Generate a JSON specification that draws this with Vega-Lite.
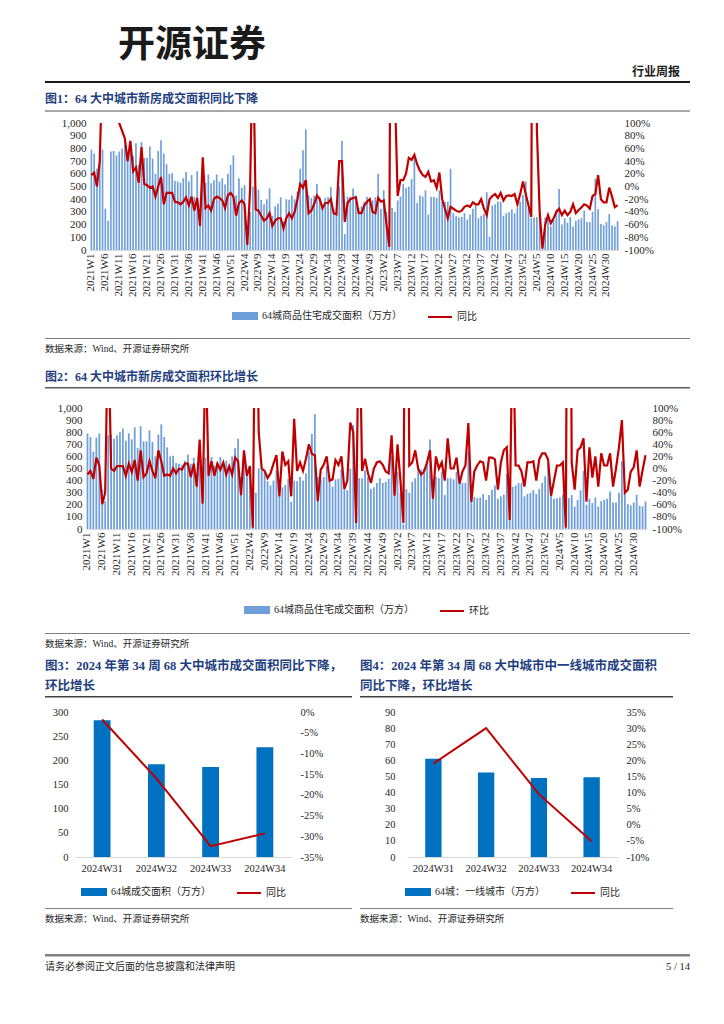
{
  "$schema": "https://vega.github.io/schema/vega-lite/v6.json",
  "background": "white",
  "padding": {"top": 27, "left": 45, "right": 0, "bottom": 0},
  "title": {"text": "开源证券", "anchor": "start", "dx": 73, "fontSize": 37, "font": "Noto Sans CJK SC", "fontWeight": "bold", "color": "#1a1a1a", "offset": 1},
  "config": {
    "view": {"stroke": null},
    "font": "Liberation Serif, Noto Sans CJK SC",
    "axis": {"labelFont": "Liberation Serif, Noto Sans CJK SC", "labelColor": "#262626", "grid": false, "ticks": false, "domain": false},
    "legend": {"labelFont": "Liberation Serif, Noto Sans CJK SC", "labelColor": "#262626", "layout": {"bottom": {"anchor": "middle"}}},
    "title": {"font": "Liberation Serif, Noto Sans CJK SC", "fontWeight": "bold", "fontSize": 12, "color": "#1F3F7F", "anchor": "start"}
  },
  "datasets": {
    "weekly": [
      {"w":"2021W1","a":790,"y":18,"m":-10},{"w":"2021W2","a":760,"y":22,"m":-4},{"w":"2021W3","a":640,"y":0,"m":-17},{"w":"2021W4","a":755,"y":40,"m":18},{"w":"2021W5","a":790,"y":200,"m":5},
      {"w":"2021W6","a":325,"y":600,"m":-59},{"w":"2021W7","a":230,"y":1200,"m":-40},{"w":"2021W8","a":775,"y":900,"m":250},{"w":"2021W9","a":780,"y":400,"m":0},{"w":"2021W10","a":745,"y":160,"m":-4},
      {"w":"2021W11","a":775,"y":100,"m":4},{"w":"2021W12","a":800,"y":88,"m":4},{"w":"2021W13","a":830,"y":76,"m":4},{"w":"2021W14","a":730,"y":40,"m":-12},{"w":"2021W15","a":790,"y":72,"m":8},
      {"w":"2021W16","a":740,"y":24,"m":-6},{"w":"2021W17","a":840,"y":30,"m":14},{"w":"2021W18","a":670,"y":6,"m":-20},{"w":"2021W19","a":850,"y":62,"m":30},{"w":"2021W20","a":725,"y":4,"m":-14},
      {"w":"2021W21","a":725,"y":2,"m":-8},{"w":"2021W22","a":815,"y":-2,"m":12},{"w":"2021W23","a":720,"y":0,"m":-4},{"w":"2021W24","a":600,"y":-16,"m":-16},{"w":"2021W25","a":780,"y":0,"m":30},
      {"w":"2021W26","a":865,"y":15,"m":12},{"w":"2021W27","a":760,"y":-28,"m":-12},{"w":"2021W28","a":675,"y":-10,"m":-10},{"w":"2021W29","a":600,"y":-10,"m":-12},{"w":"2021W30","a":605,"y":-10,"m":0},
      {"w":"2021W31","a":545,"y":-24,"m":-8},{"w":"2021W32","a":540,"y":-25,"m":0},{"w":"2021W33","a":530,"y":-28,"m":-2},{"w":"2021W34","a":565,"y":-24,"m":8},{"w":"2021W35","a":615,"y":-17,"m":8},
      {"w":"2021W36","a":540,"y":-30,"m":-14},{"w":"2021W37","a":590,"y":-16,"m":8},{"w":"2021W38","a":420,"y":-38,"m":-30},{"w":"2021W39","a":620,"y":-18,"m":48},{"w":"2021W40","a":270,"y":-62,"m":-58},
      {"w":"2021W41","a":590,"y":46,"m":200},{"w":"2021W42","a":530,"y":-34,"m":-12},{"w":"2021W43","a":595,"y":-30,"m":12},{"w":"2021W44","a":525,"y":-38,"m":-12},{"w":"2021W45","a":550,"y":-20,"m":8},
      {"w":"2021W46","a":595,"y":-16,"m":-2},{"w":"2021W47","a":540,"y":-18,"m":10},{"w":"2021W48","a":565,"y":-22,"m":-10},{"w":"2021W49","a":515,"y":-34,"m":4},{"w":"2021W50","a":600,"y":-14,"m":-10},
      {"w":"2021W51","a":670,"y":-10,"m":18},{"w":"2021W52","a":745,"y":-16,"m":12},{"w":"2022W1","a":430,"y":-46,"m":-44},{"w":"2022W2","a":565,"y":-26,"m":30},{"w":"2022W3","a":490,"y":-22,"m":-12},
      {"w":"2022W4","a":510,"y":-28,"m":4},{"w":"2022W5","a":60,"y":-92,"m":-98},{"w":"2022W6","a":300,"y":-4,"m":400},{"w":"2022W7","a":500,"y":250,"m":60},{"w":"2022W8","a":495,"y":-36,"m":0},
      {"w":"2022W9","a":475,"y":-38,"m":-4},{"w":"2022W10","a":395,"y":-46,"m":-16},{"w":"2022W11","a":360,"y":-54,"m":-8},{"w":"2022W12","a":400,"y":-50,"m":8},{"w":"2022W13","a":485,"y":-42,"m":22},
      {"w":"2022W14","a":270,"y":-62,"m":-46},{"w":"2022W15","a":345,"y":-54,"m":28},{"w":"2022W16","a":365,"y":-50,"m":6},{"w":"2022W17","a":415,"y":-50,"m":12},{"w":"2022W18","a":225,"y":-66,"m":-46},
      {"w":"2022W19","a":400,"y":-50,"m":82},{"w":"2022W20","a":395,"y":-42,"m":-4},{"w":"2022W21","a":430,"y":-50,"m":10},{"w":"2022W22","a":400,"y":-40,"m":-4},{"w":"2022W23","a":460,"y":-20,"m":16},
      {"w":"2022W24","a":640,"y":4,"m":40},{"w":"2022W25","a":785,"y":-2,"m":24},{"w":"2022W26","a":950,"y":10,"m":22},{"w":"2022W27","a":430,"y":-42,"m":-54},{"w":"2022W28","a":410,"y":-38,"m":-2},
      {"w":"2022W29","a":430,"y":-28,"m":6},{"w":"2022W30","a":520,"y":-14,"m":20},{"w":"2022W31","a":420,"y":-20,"m":-20},{"w":"2022W32","a":350,"y":-34,"m":-18},{"w":"2022W33","a":410,"y":-26,"m":14},
      {"w":"2022W34","a":415,"y":-26,"m":6},{"w":"2022W35","a":495,"y":-20,"m":20},{"w":"2022W36","a":325,"y":-42,"m":-34},{"w":"2022W37","a":320,"y":-44,"m":-20},{"w":"2022W38","a":500,"y":40,"m":76},
      {"w":"2022W39","a":860,"y":40,"m":60},{"w":"2022W40","a":125,"y":-56,"m":-90},{"w":"2022W41","a":420,"y":-26,"m":300},{"w":"2022W42","a":420,"y":-20,"m":-4},{"w":"2022W43","a":485,"y":-18,"m":16},
      {"w":"2022W44","a":430,"y":-17,"m":-8},{"w":"2022W45","a":330,"y":-42,"m":-24},{"w":"2022W46","a":345,"y":-42,"m":0},{"w":"2022W47","a":380,"y":-30,"m":10},{"w":"2022W48","a":420,"y":-24,"m":12},
      {"w":"2022W49","a":380,"y":-20,"m":6},{"w":"2022W50","a":390,"y":-40,"m":-5},{"w":"2022W51","a":415,"y":-42,"m":-8},{"w":"2022W52","a":600,"y":-18,"m":55},{"w":"2023W1","a":325,"y":-24,"m":-45},
      {"w":"2023W2","a":470,"y":-22,"m":40},{"w":"2023W3","a":300,"y":-60,"m":-20},{"w":"2023W4","a":40,"y":-95,"m":-90},{"w":"2023W5","a":330,"y":800,"m":700},{"w":"2023W6","a":300,"y":150,"m":5},
      {"w":"2023W7","a":390,"y":-15,"m":10},{"w":"2023W8","a":420,"y":10,"m":30},{"w":"2023W9","a":520,"y":10,"m":0},{"w":"2023W10","a":490,"y":20,"m":-10},{"w":"2023W11","a":500,"y":45,"m":-5},
      {"w":"2023W12","a":560,"y":42,"m":10},{"w":"2023W13","a":740,"y":50,"m":30},{"w":"2023W14","a":370,"y":35,"m":-50},{"w":"2023W15","a":430,"y":25,"m":20},{"w":"2023W16","a":420,"y":18,"m":0},
      {"w":"2023W17","a":470,"y":15,"m":10},{"w":"2023W18","a":280,"y":23,"m":-20},{"w":"2023W19","a":420,"y":8,"m":50},{"w":"2023W20","a":420,"y":10,"m":0},{"w":"2023W21","a":410,"y":-2,"m":0},
      {"w":"2023W22","a":470,"y":22,"m":18},{"w":"2023W23","a":380,"y":-20,"m":-25},{"w":"2023W24","a":380,"y":-35,"m":-5},{"w":"2023W25","a":380,"y":-50,"m":5},{"w":"2023W26","a":640,"y":-32,"m":75},
      {"w":"2023W27","a":290,"y":-35,"m":-55},{"w":"2023W28","a":265,"y":-38,"m":-5},{"w":"2023W29","a":255,"y":-40,"m":5},{"w":"2023W30","a":260,"y":-38,"m":12},{"w":"2023W31","a":290,"y":-32,"m":10},
      {"w":"2023W32","a":240,"y":-30,"m":-20},{"w":"2023W33","a":280,"y":-32,"m":18},{"w":"2023W34","a":325,"y":-25,"m":18},{"w":"2023W35","a":360,"y":-28,"m":15},{"w":"2023W36","a":250,"y":-28,"m":-35},
      {"w":"2023W37","a":270,"y":-20,"m":10},{"w":"2023W38","a":285,"y":-35,"m":30},{"w":"2023W39","a":455,"y":-45,"m":35},{"w":"2023W40","a":105,"y":-20,"m":-85},{"w":"2023W41","a":350,"y":-15,"m":250},
      {"w":"2023W42","a":360,"y":-12,"m":5},{"w":"2023W43","a":380,"y":-18,"m":5},{"w":"2023W44","a":380,"y":-10,"m":-5},{"w":"2023W45","a":270,"y":-22,"m":-30},{"w":"2023W46","a":290,"y":-15,"m":10},
      {"w":"2023W47","a":300,"y":-14,"m":10},{"w":"2023W48","a":320,"y":-15,"m":12},{"w":"2023W49","a":290,"y":-12,"m":-20},{"w":"2023W50","a":330,"y":-28,"m":15},{"w":"2023W51","a":380,"y":-12,"m":25},
      {"w":"2023W52","a":435,"y":8,"m":25},{"w":"2024W1","a":540,"y":-12,"m":15},{"w":"2024W2","a":330,"y":-30,"m":-45},{"w":"2024W3","a":250,"y":-48,"m":-20},{"w":"2024W4","a":255,"y":1200,"m":5},
      {"w":"2024W5","a":260,"y":90,"m":5},{"w":"2024W6","a":285,"y":-40,"m":10},{"w":"2024W7","a":10,"y":-98,"m":-98},{"w":"2024W8","a":255,"y":-60,"m":900},{"w":"2024W9","a":280,"y":-45,"m":10},
      {"w":"2024W10","a":185,"y":-58,"m":-35},{"w":"2024W11","a":240,"y":-50,"m":30},{"w":"2024W12","a":320,"y":-40,"m":35},{"w":"2024W13","a":480,"y":-35,"m":50},{"w":"2024W14","a":200,"y":-45,"m":-55},
      {"w":"2024W15","a":250,"y":-38,"m":35},{"w":"2024W16","a":215,"y":-45,"m":-15},{"w":"2024W17","a":260,"y":-40,"m":20},{"w":"2024W18","a":185,"y":-28,"m":-30},{"w":"2024W19","a":230,"y":-42,"m":25},
      {"w":"2024W20","a":240,"y":-37,"m":5},{"w":"2024W21","a":250,"y":-33,"m":5},{"w":"2024W22","a":310,"y":-28,"m":25},{"w":"2024W23","a":220,"y":-30,"m":-30},{"w":"2024W24","a":220,"y":-35,"m":0},
      {"w":"2024W25","a":300,"y":-15,"m":35},{"w":"2024W26","a":560,"y":-12,"m":80},{"w":"2024W27","a":320,"y":18,"m":-40},{"w":"2024W28","a":205,"y":-20,"m":-35},{"w":"2024W29","a":195,"y":-25,"m":-5},
      {"w":"2024W30","a":220,"y":-25,"m":2},{"w":"2024W31","a":283,"y":-1.8,"m":30},{"w":"2024W32","a":192,"y":-16,"m":-30},{"w":"2024W33","a":186,"y":-32.4,"m":-3},{"w":"2024W34","a":227,"y":-29.3,"m":22}
    ],
    "c3": [
      {"w":"2024W31","a":283,"y":-1.8},{"w":"2024W32","a":192,"y":-16},{"w":"2024W33","a":186,"y":-32.4},{"w":"2024W34","a":227,"y":-29.3}
    ],
    "c4": [
      {"w":"2024W31","a":61,"y":19},{"w":"2024W32","a":52.5,"y":30},{"w":"2024W33","a":49,"y":9.5},{"w":"2024W34","a":49.5,"y":-5.1}
    ]
  },
  "columns": 1,
  "align": "none",
  "spacing": 10,
  "resolve": {"scale": {"color": "independent"}, "legend": {"color": "independent"}},
  "concat": [
    {
      "width": 645, "height": 2,
      "view": {"fill": "#1a1a1a", "stroke": null},
      "title": {"text": "行业周报", "anchor": "end", "dx": -10, "fontSize": 12, "color": "#1a1a1a", "offset": 2},
      "data": {"values": []}, "mark": {"type": "rule"}, "encoding": {}
    },
    {
      "columns": 1, "align": "none", "spacing": 17,
      "resolve": {"scale": {"color": "independent"}, "legend": {"color": "independent"}},
      "concat": [
        {
          "columns": 1, "align": "none", "spacing": 5,
          "resolve": {"scale": {"color": "independent"}, "legend": {"color": "independent"}},
          "concat": [
            {
              "width": 645, "height": 2,
              "view": {"fill": "#A6A6A6", "stroke": null},
              "title": {"text": "图1：64 大中城市新房成交面积同比下降", "offset": 4},
              "data": {"values": []}, "mark": {"type": "rule"}, "encoding": {}
            },
            {
              "columns": 1, "align": "none", "spacing": 15,
              "resolve": {"scale": {"color": "independent"}, "legend": {"color": "independent"}},
              "concat": [
                {
                  "spacing": 0,
                  "resolve": {"scale": {"color": "independent"}, "legend": {"color": "independent"}},
                  "hconcat": [
                    {"width": 1, "height": 1, "data": {"values": []}, "mark": {"type": "rule"}, "encoding": {}},
                    {
                      "width": 529, "height": 127,
                      "data": {"name": "weekly"},
                      "encoding": {
                        "x": {"field": "w", "type": "nominal", "sort": null, "scale": {"paddingInner": 0.4, "paddingOuter": 0.2},
                          "axis": {"title": null, "labelAngle": -90, "labelFontSize": 11, "labelPadding": 3, "domain": true, "domainColor": "#D9D9D9",
                            "values": ["2021W1","2021W6","2021W11","2021W16","2021W21","2021W26","2021W31","2021W36","2021W41","2021W46","2021W51","2022W4","2022W9","2022W14","2022W19","2022W24","2022W29","2022W34","2022W39","2022W44","2022W49","2023W2","2023W7","2023W12","2023W17","2023W22","2023W27","2023W32","2023W37","2023W42","2023W47","2023W52","2024W5","2024W10","2024W15","2024W20","2024W25","2024W30"]}}
                      },
                      "layer": [
                        {
                          "mark": {"type": "bar"},
                          "encoding": {
                            "y": {"field": "a", "type": "quantitative", "scale": {"domain": [0, 1000]},
                              "axis": {"title": null, "values": [0,100,200,300,400,500,600,700,800,900,1000], "labelFontSize": 11, "labelPadding": 4, "minExtent": 44}},
                            "color": {"datum": "64城商品住宅成交面积（万方）",
                              "scale": {"domain": ["64城商品住宅成交面积（万方）", "同比"], "range": ["#6F9FDA", "#C00000"]},
                              "legend": {"orient": "bottom", "direction": "horizontal", "title": null, "labelFontSize": 10, "symbolSize": 576, "columnPadding": 22, "labelLimit": 300, "offset": 6, "padding": 0,
                                "encode": {"symbols": {"update": {
                                  "shape": {"signal": "datum.value === '同比' ? 'M-1,0H1' : 'M-1,-0.25H1V0.25H-1Z'"},
                                  "fill": {"signal": "datum.value === '同比' ? 'transparent' : '#6F9FDA'"},
                                  "stroke": {"signal": "datum.value === '同比' ? '#C00000' : 'transparent'"},
                                  "strokeWidth": {"value": 2}}}}}}
                          }
                        },
                        {
                          "mark": {"type": "line", "strokeWidth": 2.2, "clip": true},
                          "encoding": {
                            "y": {"field": "y", "type": "quantitative", "scale": {"domain": [-100, 100]},
                              "axis": {"title": null, "orient": "right", "values": [-100,-80,-60,-40,-20,0,20,40,60,80,100], "labelExpr": "datum.value + '%'", "labelFontSize": 11, "labelPadding": 5}},
                            "color": {"datum": "同比"}
                          }
                        }
                      ],
                      "resolve": {"scale": {"y": "independent"}}
                    }
                  ]
                },
                {
                  "width": 645, "height": 1,
                  "view": {"fill": "#7F7F7F", "stroke": null},
                  "title": {"text": "数据来源：Wind、开源证券研究所", "orient": "bottom", "fontWeight": "normal", "fontSize": 9.5, "color": "#262626", "offset": 5},
                  "data": {"values": []}, "mark": {"type": "rule"}, "encoding": {}
                }
              ]
            }
          ]
        },
        {
          "columns": 1, "align": "none", "spacing": 13,
          "resolve": {"scale": {"color": "independent"}, "legend": {"color": "independent"}},
          "concat": [
            {
              "width": 645, "height": 1.5,
              "view": {"fill": "#595959", "stroke": null},
              "title": {"text": "图2：64 大中城市新房成交面积环比增长", "offset": 3},
              "data": {"values": []}, "mark": {"type": "rule"}, "encoding": {}
            },
            {
              "columns": 1, "align": "none", "spacing": 16,
              "resolve": {"scale": {"color": "independent"}, "legend": {"color": "independent"}},
              "concat": [
                {
                  "spacing": 0,
                  "resolve": {"scale": {"color": "independent"}, "legend": {"color": "independent"}},
                  "hconcat": [
                    {"width": 1, "height": 1, "data": {"values": []}, "mark": {"type": "rule"}, "encoding": {}},
                    {
                      "width": 561, "height": 121,
                      "data": {"name": "weekly"},
                      "encoding": {
                        "x": {"field": "w", "type": "nominal", "sort": null, "scale": {"paddingInner": 0.4, "paddingOuter": 0.2},
                          "axis": {"title": null, "labelAngle": -90, "labelFontSize": 11, "labelPadding": 3, "domain": true, "domainColor": "#D9D9D9",
                            "values": ["2021W1","2021W6","2021W11","2021W16","2021W21","2021W26","2021W31","2021W36","2021W41","2021W46","2021W51","2022W4","2022W9","2022W14","2022W19","2022W24","2022W29","2022W34","2022W39","2022W44","2022W49","2023W2","2023W7","2023W12","2023W17","2023W22","2023W27","2023W32","2023W37","2023W42","2023W47","2023W52","2024W5","2024W10","2024W15","2024W20","2024W25","2024W30"]}}
                      },
                      "layer": [
                        {
                          "mark": {"type": "bar"},
                          "encoding": {
                            "y": {"field": "a", "type": "quantitative", "scale": {"domain": [0, 1000]},
                              "axis": {"title": null, "values": [0,100,200,300,400,500,600,700,800,900,1000], "labelFontSize": 11, "labelPadding": 4, "minExtent": 40}},
                            "color": {"datum": "64城商品住宅成交面积（万方）",
                              "scale": {"domain": ["64城商品住宅成交面积（万方）", "环比"], "range": ["#6F9FDA", "#C00000"]},
                              "legend": {"orient": "bottom", "direction": "horizontal", "title": null, "labelFontSize": 10, "symbolSize": 576, "columnPadding": 22, "labelLimit": 300, "offset": 21, "padding": 0,
                                "encode": {"symbols": {"update": {
                                  "shape": {"signal": "datum.value === '环比' ? 'M-1,0H1' : 'M-1,-0.25H1V0.25H-1Z'"},
                                  "fill": {"signal": "datum.value === '环比' ? 'transparent' : '#6F9FDA'"},
                                  "stroke": {"signal": "datum.value === '环比' ? '#C00000' : 'transparent'"},
                                  "strokeWidth": {"value": 2}}}}}}
                          }
                        },
                        {
                          "mark": {"type": "line", "strokeWidth": 2.2, "clip": true},
                          "encoding": {
                            "y": {"field": "m", "type": "quantitative", "scale": {"domain": [-100, 100]},
                              "axis": {"title": null, "orient": "right", "values": [-100,-80,-60,-40,-20,0,20,40,60,80,100], "labelExpr": "datum.value + '%'", "labelFontSize": 11, "labelPadding": 5}},
                            "color": {"datum": "环比"}
                          }
                        }
                      ],
                      "resolve": {"scale": {"y": "independent"}}
                    }
                  ]
                },
                {
                  "width": 645, "height": 1,
                  "view": {"fill": "#7F7F7F", "stroke": null},
                  "title": {"text": "数据来源：Wind、开源证券研究所", "orient": "bottom", "fontWeight": "normal", "fontSize": 9.5, "color": "#262626", "offset": 5},
                  "data": {"values": []}, "mark": {"type": "rule"}, "encoding": {}
                }
              ]
            }
          ]
        }
      ]
    },
    {
      "columns": 1, "align": "none", "spacing": 30,
      "resolve": {"scale": {"color": "independent"}, "legend": {"color": "independent"}},
      "concat": [
        {
          "columns": 1, "align": "none", "spacing": 9,
          "resolve": {"scale": {"color": "independent"}, "legend": {"color": "independent"}},
          "concat": [
            {
              "spacing": 8,
              "hconcat": [
                {
                  "width": 307, "height": 1.5,
                  "view": {"fill": "#404040", "stroke": null},
                  "title": {"text": ["图3：2024 年第 34 周 68 大中城市成交面积同比下降，", "环比增长"], "lineHeight": 20, "fontSize": 12.5, "offset": 4},
                  "data": {"values": []}, "mark": {"type": "rule"}, "encoding": {}
                },
                {
                  "width": 313, "height": 1.5,
                  "view": {"fill": "#404040", "stroke": null},
                  "title": {"text": ["图4：2024 年第 34 周 68 大中城市中一线城市成交面积", "同比下降，环比增长"], "lineHeight": 20, "fontSize": 12.5, "offset": 4},
                  "data": {"values": []}, "mark": {"type": "rule"}, "encoding": {}
                }
              ]
            },
            {
              "columns": 1, "align": "none", "spacing": 6,
              "resolve": {"scale": {"color": "independent"}, "legend": {"color": "independent"}},
              "concat": [
                {
                  "spacing": 28,
                  "resolve": {"scale": {"color": "independent"}, "legend": {"color": "independent"}},
                  "hconcat": [
                    {
                      "spacing": 0,
                      "resolve": {"scale": {"color": "independent"}, "legend": {"color": "independent"}},
                      "hconcat": [
                        {"width": 1, "height": 1, "data": {"values": []}, "mark": {"type": "rule"}, "encoding": {}},
                        {
                          "width": 217, "height": 145,
                          "data": {"name": "c3"},
                          "encoding": {
                            "x": {"field": "w", "type": "nominal", "sort": null, "scale": {"paddingInner": 0.69, "paddingOuter": 0.345},
                              "axis": {"title": null, "labelAngle": 0, "labelFontSize": 10.5, "labelPadding": 6, "domain": true, "domainColor": "#D9D9D9"}}
                          },
                          "layer": [
                            {
                              "mark": {"type": "bar"},
                              "encoding": {
                                "y": {"field": "a", "type": "quantitative", "scale": {"domain": [0, 300]},
                                  "axis": {"title": null, "values": [0,50,100,150,200,250,300], "labelFontSize": 10.5, "labelPadding": 7, "minExtent": 29}},
                                "color": {"datum": "64城成交面积（万方）",
                                  "scale": {"domain": ["64城成交面积（万方）", "同比"], "range": ["#0070C0", "#C00000"]},
                                  "legend": {"orient": "bottom", "direction": "horizontal", "title": null, "labelFontSize": 10, "symbolSize": 576, "columnPadding": 22, "labelLimit": 300, "offset": 2, "padding": 3,
                                    "encode": {"symbols": {"update": {
                                      "shape": {"signal": "datum.value === '同比' ? 'M-1,0H1' : 'M-1,-0.25H1V0.25H-1Z'"},
                                      "fill": {"signal": "datum.value === '同比' ? 'transparent' : '#0070C0'"},
                                      "stroke": {"signal": "datum.value === '同比' ? '#C00000' : 'transparent'"},
                                      "strokeWidth": {"value": 2}}}}}}
                              }
                            },
                            {
                              "mark": {"type": "line", "strokeWidth": 2},
                              "encoding": {
                                "y": {"field": "y", "type": "quantitative", "scale": {"domain": [-35, 0]},
                                  "axis": {"title": null, "orient": "right", "values": [-35,-30,-25,-20,-15,-10,-5,0], "labelExpr": "datum.value + '%'", "labelFontSize": 10.5, "labelPadding": 8, "minExtent": 40}},
                                "color": {"datum": "同比"}
                              }
                            }
                          ],
                          "resolve": {"scale": {"y": "independent"}}
                        }
                      ]
                    },
                    {
                      "width": 211, "height": 145,
                      "data": {"name": "c4"},
                      "encoding": {
                        "x": {"field": "w", "type": "nominal", "sort": null, "scale": {"paddingInner": 0.69, "paddingOuter": 0.345},
                          "axis": {"title": null, "labelAngle": 0, "labelFontSize": 10.5, "labelPadding": 6, "domain": true, "domainColor": "#D9D9D9"}}
                      },
                      "layer": [
                        {
                          "mark": {"type": "bar"},
                          "encoding": {
                            "y": {"field": "a", "type": "quantitative", "scale": {"domain": [0, 90]},
                              "axis": {"title": null, "values": [0,10,20,30,40,50,60,70,80,90], "labelFontSize": 10.5, "labelPadding": 12, "minExtent": 47}},
                            "color": {"datum": "64城：一线城市（万方）",
                              "scale": {"domain": ["64城：一线城市（万方）", "同比"], "range": ["#0070C0", "#C00000"]},
                              "legend": {"orient": "bottom", "direction": "horizontal", "title": null, "labelFontSize": 10, "symbolSize": 576, "columnPadding": 22, "labelLimit": 300, "offset": 2, "padding": 3,
                                "encode": {"symbols": {"update": {
                                  "shape": {"signal": "datum.value === '同比' ? 'M-1,0H1' : 'M-1,-0.25H1V0.25H-1Z'"},
                                  "fill": {"signal": "datum.value === '同比' ? 'transparent' : '#0070C0'"},
                                  "stroke": {"signal": "datum.value === '同比' ? '#C00000' : 'transparent'"},
                                  "strokeWidth": {"value": 2}}}}}}
                          }
                        },
                        {
                          "mark": {"type": "line", "strokeWidth": 2},
                          "encoding": {
                            "y": {"field": "y", "type": "quantitative", "scale": {"domain": [-10, 35]},
                              "axis": {"title": null, "orient": "right", "values": [-10,-5,0,5,10,15,20,25,30,35], "labelExpr": "datum.value + '%'", "labelFontSize": 10.5, "labelPadding": 8}},
                            "color": {"datum": "同比"}
                          }
                        }
                      ],
                      "resolve": {"scale": {"y": "independent"}}
                    }
                  ]
                },
                {
                  "spacing": 8,
                  "hconcat": [
                    {
                      "width": 307, "height": 1,
                      "view": {"fill": "#7F7F7F", "stroke": null},
                      "title": {"text": "数据来源：Wind、开源证券研究所", "orient": "bottom", "fontWeight": "normal", "fontSize": 9.5, "color": "#262626", "offset": 5},
                      "data": {"values": []}, "mark": {"type": "rule"}, "encoding": {}
                    },
                    {
                      "width": 313, "height": 1,
                      "view": {"fill": "#7F7F7F", "stroke": null},
                      "title": {"text": "数据来源：Wind、开源证券研究所", "orient": "bottom", "fontWeight": "normal", "fontSize": 9.5, "color": "#262626", "offset": 5},
                      "data": {"values": []}, "mark": {"type": "rule"}, "encoding": {}
                    }
                  ]
                }
              ]
            }
          ]
        },
        {
          "spacing": 0,
          "hconcat": [
            {
              "width": 600, "height": 2.5,
              "view": {"fill": "#808080", "stroke": null},
              "title": {"text": "请务必参阅正文后面的信息披露和法律声明", "orient": "bottom", "fontWeight": "normal", "fontSize": 10, "color": "#262626", "offset": 5},
              "data": {"values": []}, "mark": {"type": "rule"}, "encoding": {}
            },
            {
              "width": 45, "height": 2.5,
              "view": {"fill": "#808080", "stroke": null},
              "title": {"text": "5 / 14", "orient": "bottom", "anchor": "end", "fontWeight": "normal", "fontSize": 10.5, "color": "#262626", "offset": 5},
              "data": {"values": []}, "mark": {"type": "rule"}, "encoding": {}
            }
          ]
        }
      ]
    }
  ]
}
